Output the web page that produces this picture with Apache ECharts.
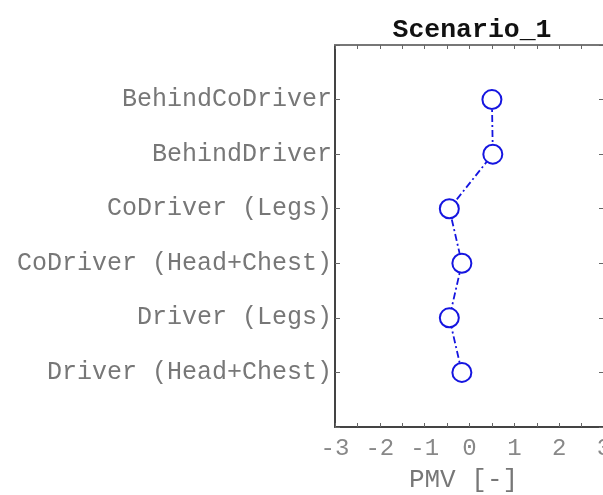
<!DOCTYPE html>
<html>
<head>
<meta charset="utf-8">
<script src="https://cdn.jsdelivr.net/npm/echarts@6/dist/echarts.min.js"></script>
<style>
html,body{margin:0;padding:0;background:#fff;overflow:hidden;width:603px;height:495px;}
#c{width:606px;height:495px;}
</style>
</head>
<body>
<div id="c"></div>
<script>
// Categories from bottom (1) to top (6)
const categories = ['Driver (Head+Chest)', 'Driver (Legs)', 'CoDriver (Head+Chest)', 'CoDriver (Legs)', 'BehindDriver', 'BehindCoDriver'];
const pmv = [-0.17, -0.45, -0.17, -0.45, 0.52, 0.50];
const titleText = 'Scenario_1';
const xName = 'PMV [-]';

const chart = echarts.init(document.getElementById('c'), null, {renderer: 'canvas'});
const mono = 'Liberation Mono, DejaVu Sans Mono, monospace';
const points = categories.map((c, i) => [pmv[i], i + 1]);

const baseX = {
  type: 'value', min: -3, max: 3, interval: 0.5,
  splitLine: {show: false},
  axisTick: {show: true, inside: true, length: 4, lineStyle: {color: '#666', width: 1}}
};
const baseY = {
  type: 'value', min: 0, max: 7, interval: 1,
  splitLine: {show: false},
  axisTick: {show: true, inside: true, length: 5, lineStyle: {color: '#666', width: 1}}
};

chart.setOption({
  backgroundColor: '#fff',
  animation: false,
  title: {
    text: titleText, left: 467, top: 12, textAlign: 'center',
    textStyle: {fontFamily: mono, fontSize: 26.5, fontWeight: 'bold', color: '#111'}
  },
  grid: {left: 335, right: 2, top: 45, bottom: 68, containLabel: false, outerBoundsMode: 'none'},
  xAxis: [
    Object.assign({}, baseX, {
      position: 'bottom',
      name: xName, nameLocation: 'middle', nameGap: 40,
      nameTextStyle: {fontFamily: mono, fontSize: 26, color: '#777', padding: [0, 12, 0, 0]},
      axisLine: {show: true, onZero: false, lineStyle: {color: '#444', width: 2}},
      axisLabel: {
        margin: 10, fontFamily: mono, fontSize: 24, color: '#888',
        showMinLabel: true, showMaxLabel: true,
        formatter: v => Number.isInteger(v) ? String(v) : ''
      }
    }),
    Object.assign({}, baseX, {
      position: 'top',
      axisLine: {show: true, onZero: false, lineStyle: {color: '#777', width: 2}},
      axisLabel: {show: false}
    })
  ],
  yAxis: [
    Object.assign({}, baseY, {
      position: 'left',
      axisLine: {show: true, onZero: false, lineStyle: {color: '#444', width: 2}},
      axisLabel: {
        margin: 3, fontFamily: mono, fontSize: 25, color: '#777',
        formatter: v => categories[v - 1] || ''
      }
    }),
    Object.assign({}, baseY, {
      position: 'right',
      axisLine: {show: true, onZero: false, lineStyle: {color: '#777', width: 2}},
      axisLabel: {show: false}
    })
  ],
  series: [{
    type: 'line',
    data: points,
    symbol: 'circle',
    symbolSize: 19,
    itemStyle: {color: '#fff', borderColor: '#1515e0', borderWidth: 2},
    lineStyle: {color: '#1515e0', width: 1.8, type: [7, 3, 2, 3]},
    z: 5
  }]
});
</script>
</body>
</html>
